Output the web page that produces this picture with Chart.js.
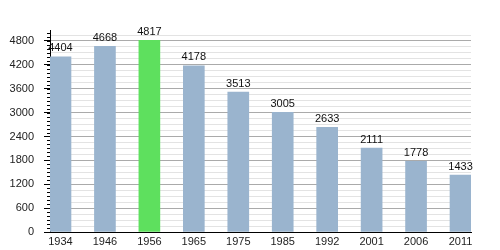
<!DOCTYPE html>
<html>
<head>
<meta charset="utf-8">
<script src="https://cdn.jsdelivr.net/npm/chart.js@4/dist/chart.umd.min.js"></script>
<style>
  html, body { margin: 0; padding: 0; background: #fff; }
  #wrap { width: 500px; height: 250px; }
</style>
</head>
<body>
<div id="wrap"><canvas id="popChart" width="500" height="250"></canvas></div>
<script>
// census years and population
const years = ['1934', '1946', '1956', '1965', '1975', '1985', '1992', '2001', '2006', '2011'];
const population = [4404, 4668, 4817, 4178, 3513, 3005, 2633, 2111, 1778, 1433];
const highlightYear = '1956';

const blueBar = '#9ab4ce';
const greenBar = '#5ee05e';

// value labels on top of each bar
const valueLabels = {
    id: 'valueLabels',
    afterDatasetsDraw(chart) {
        const ctx = chart.ctx;
        const meta = chart.getDatasetMeta(0);
        ctx.save();
        ctx.font = '11px "Liberation Sans", Arial, sans-serif';
        ctx.fillStyle = '#111';
        ctx.textAlign = 'center';
        ctx.textBaseline = 'bottom';
        meta.data.forEach((bar, i) => {
            ctx.fillText(String(population[i]), bar.x, bar.y - 3);
        });
        ctx.restore();
    }
};

// small minor ticks on the y axis every 100
const minorTicks = {
    id: 'minorTicks',
    afterDraw(chart) {
        const y = chart.scales.y;
        const ctx = chart.ctx;
        ctx.save();
        ctx.strokeStyle = '#000';
        ctx.lineWidth = 1;
        for (let v = 0; v <= y.max; v += 100) {
            const py = Math.round(y.getPixelForValue(v)) + 0.5;
            ctx.beginPath();
            ctx.moveTo(y.right - 3, py);
            ctx.lineTo(y.right, py);
            ctx.stroke();
        }
        ctx.restore();
    }
};

const ctx = document.getElementById('popChart').getContext('2d');
new Chart(ctx, {
    type: 'bar',
    data: {
        datasets: [{
            data: population.map((v, i) => ({ x: i, y: v })),
            backgroundColor: years.map(y => y === highlightYear ? greenBar : blueBar),
            borderWidth: 0,
            barThickness: 21
        }]
    },
    options: {
        responsive: false,
        animation: false,
        events: [],
        layout: { padding: { top: 30, right: 29, left: 0, bottom: 0 } },
        plugins: { legend: { display: false }, tooltip: { enabled: false } },
        scales: {
            x: {
                type: 'linear',
                offset: false,
                min: -0.236,
                max: 9.236,
                afterBuildTicks: s => { s.ticks = years.map((_, i) => ({ value: i })); },
                afterFit: s => { s.height = 18; },
                grid: { display: false, drawTicks: false, offset: false },
                border: { color: '#000', width: 1 },
                ticks: {
                    padding: 3,
                    autoSkip: false,
                    maxRotation: 0,
                    color: '#222',
                    font: { family: '"Liberation Sans", Arial, sans-serif', size: 11 },
                    callback: v => years[v]
                }
            },
            y: {
                min: 0,
                max: 5076,
                afterFit: s => { s.width = 50; },
                grid: {
                    color: c => c.tick.value % 600 === 0 ? '#aaaaaa' : '#e3e3e3',
                    tickColor: c => c.tick.value % 600 === 0 ? '#000' : 'transparent',
                    tickLength: 6
                },
                border: { color: '#000', width: 1 },
                ticks: {
                    stepSize: 150,
                    includeBounds: false,
                    autoSkip: false,
                    padding: 10,
                    color: '#222',
                    font: { family: '"Liberation Sans", Arial, sans-serif', size: 11 },
                    callback: v => v % 600 === 0 ? String(v) : ''
                }
            }
        }
    },
    plugins: [valueLabels, minorTicks]
});
</script>
</body>
</html>
